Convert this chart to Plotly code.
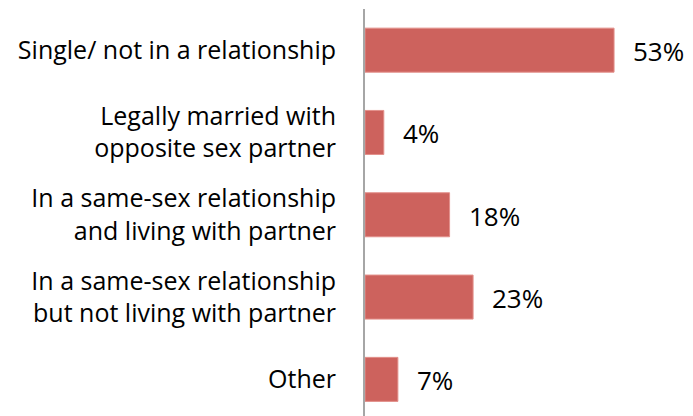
import plotly.graph_objects as go

categorias = [
    "Single/ not in a relationship",
    "Legally married with<br>opposite sex partner",
    "In a same-sex relationship<br>and living with partner",
    "In a same-sex relationship<br>but not living with partner",
    "Other",
]
porcentajes = [53, 4, 18, 23, 7]
etiquetas = [f"{p}%" for p in porcentajes]

FUENTE = "'Open Sans', sans-serif"

fig = go.Figure()
fig.add_trace(go.Bar(
    x=porcentajes, y=categorias, orientation="h",
    marker=dict(color="#CD625D", line=dict(color="#E3908B", width=1)),
    width=0.535,
))

for cat, val, txt in zip(categorias, porcentajes, etiquetas):
    fig.add_annotation(x=val, y=cat, text=txt, showarrow=False,
                       xanchor="left", xshift=17, yshift=-1,
                       font=dict(family=FUENTE, size=26, color="#000000"))

# la página tiene 8px de margen en el body: se compensa aquí
fig.update_layout(
    width=685, height=408,
    paper_bgcolor="white", plot_bgcolor="white",
    margin=dict(l=357, r=0, t=1, b=0, autoexpand=False),
    font=dict(family=FUENTE, size=25, color="#000000"),
    showlegend=False,
    xaxis=dict(range=[0, 69.8], showgrid=False, zeroline=False,
               showticklabels=False, showline=False, automargin=False),
    yaxis=dict(type="category", range=[4.445, -0.5], showgrid=False,
               showline=True, linecolor="#A6A6A6", linewidth=2,
               ticks="", ticklabelstandoff=22, automargin=False,
               tickfont=dict(family=FUENTE, size=25, color="#000000")),
)

fig.write_html("out.html")
